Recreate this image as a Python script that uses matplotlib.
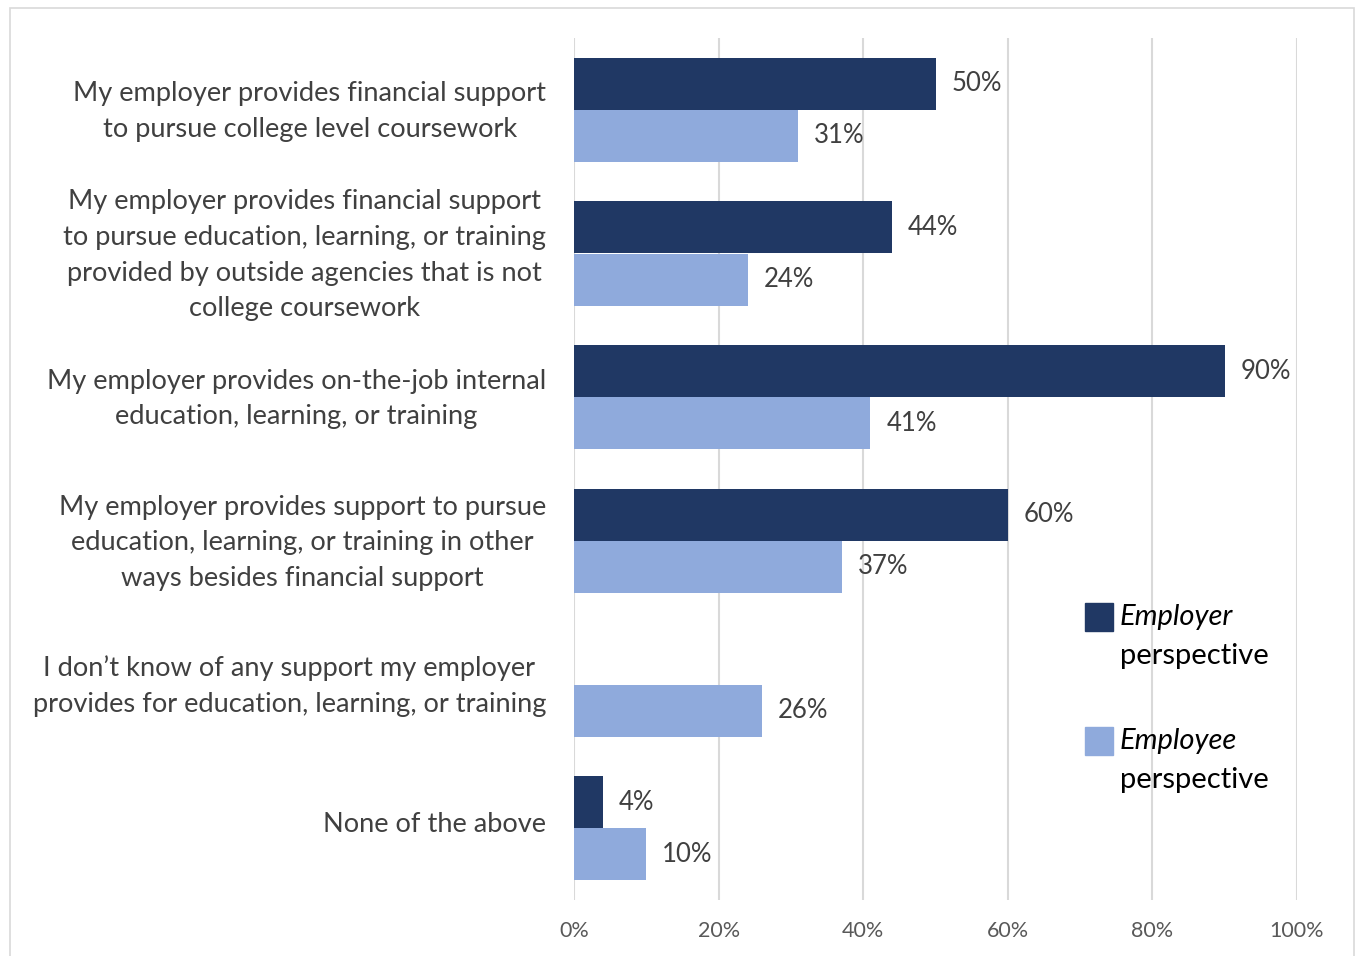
import matplotlib
matplotlib.use("Agg")
import matplotlib.pyplot as plt
from matplotlib.patches import Rectangle
from matplotlib.transforms import ScaledTranslation
import numpy as np

plt.rcParams['font.family'] = ['Lato', 'DejaVu Sans']

categories = [
    "My employer provides financial support\nto pursue college level coursework",
    "My employer provides financial support\nto pursue education, learning, or training\nprovided by outside agencies that is not\ncollege coursework",
    "My employer provides on-the-job internal\neducation, learning, or training",
    "My employer provides support to pursue\neducation, learning, or training in other\nways besides financial support",
    "I don\u2019t know of any support my employer\nprovides for education, learning, or training",
    "None of the above",
]
employer = [50, 44, 90, 60, None, 4]
employee = [31, 24, 41, 37, 26, 10]
xticks = [0, 20, 40, 60, 80, 100]

dark = "#203864"
light = "#8faadc"
text_gray = "#404040"

fig = plt.figure(figsize=(13.56, 9.56), dpi=100)
ax = fig.add_axes([574 / 1356, 1 - 900 / 956, (1297 - 574) / 1356, (900 - 38) / 956])

# outer chart frame
fig.patches.append(Rectangle((10 / 1356, -0.01), (1354 - 10) / 1356, 1 - 8 / 956 + 0.01,
                             transform=fig.transFigure, fill=False,
                             edgecolor="#d9d9d9", linewidth=1.2))

n = len(categories)
y = np.arange(n)
h = 0.362

for i in range(n):
    if employer[i] is not None:
        ax.barh(y[i] - h / 2, employer[i], height=h, color=dark, zorder=3)
        ax.text(employer[i] + 2.2, y[i] - h / 2, f"{employer[i]}%", va="center",
                ha="left", fontsize=18.5, color=text_gray)
    ax.barh(y[i] + h / 2, employee[i], height=h, color=light, zorder=3)
    ax.text(employee[i] + 2.2, y[i] + h / 2, f"{employee[i]}%", va="center",
            ha="left", fontsize=18.5, color=text_gray)

ax.set_xlim(0, 100)
ax.set_ylim(n - 0.5, -0.5)
ax.set_xticks(xticks)
ax.set_xticklabels([f"{t}%" for t in xticks], fontsize=15.5, color="#595959")
ax.tick_params(axis="x", length=0, pad=15)
ax.set_yticks(y)
ax.set_yticklabels(categories, fontsize=19.6, color=text_gray, linespacing=1.53,
                   multialignment="center")
ax.tick_params(axis="y", length=0, pad=20)
# nudge category labels up slightly
lift = ScaledTranslation(0, 6 / 100, fig.dpi_scale_trans)
for lbl in ax.get_yticklabels():
    lbl.set_transform(lbl.get_transform() + lift)
ax.grid(axis="x", color="#d9d9d9", linewidth=1.5, zorder=0)
for s in ax.spines.values():
    s.set_visible(False)

# legend with italic first word
leg = [(dark, "Employer", 1 - 617 / 956), (light, "Employee", 1 - 741 / 956)]
for col, word, yc in leg:
    fig.patches.append(Rectangle((1085 / 1356, yc - 14 / 956), 28 / 1356, 28 / 956,
                                 transform=fig.transFigure, color=col))
    fig.text(1120 / 1356, yc, word, style="italic", fontsize=21, va="center", ha="left",
             color="black")
    fig.text(1120 / 1356, yc - 39 / 956, "perspective", fontsize=21, va="center",
             ha="left", color="black")

fig.savefig("out.png", dpi=100)
